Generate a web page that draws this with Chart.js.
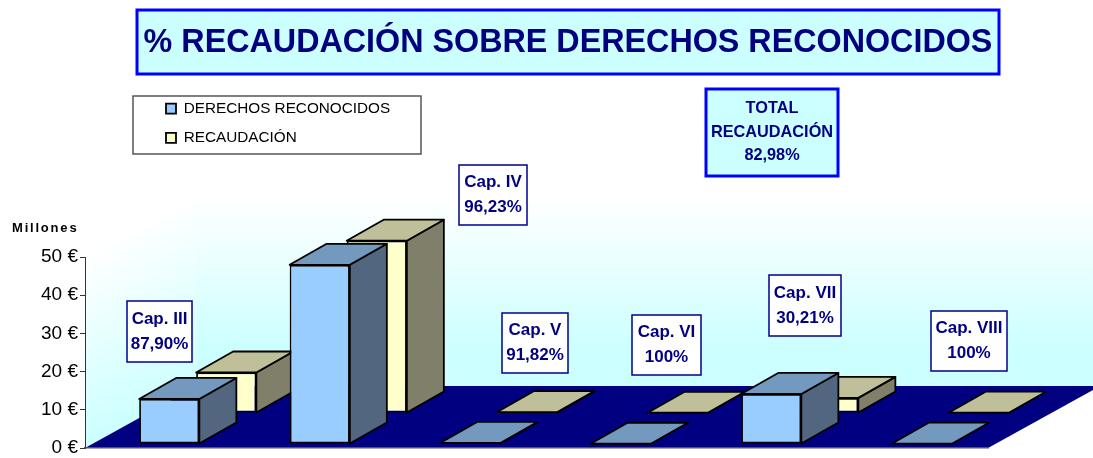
<!DOCTYPE html>
<html><head><meta charset="utf-8">
<script src="https://cdn.jsdelivr.net/npm/chart.js@4"></script>
<style>html,body{margin:0;padding:0;background:#fff}canvas{display:block}</style>
</head><body><canvas id="c" width="1093" height="458"></canvas>
<script>
const categories = ['Cap. III','Cap. IV','Cap. V','Cap. VI','Cap. VII','Cap. VIII'];
const derechos = [11.8, 46.9, 0.27, 0.06, 13.1, 0.08];
const recaudacion = [10.6, 45.1, 0.25, 0.06, 3.96, 0.08];
const percentLabels = ['87,90%','96,23%','91,82%','100%','30,21%','100%'];
const yTicks = [0,10,20,30,40,50];
const titleText = '% RECAUDACIÓN SOBRE DERECHOS RECONOCIDOS';
const totalLines = ['TOTAL','RECAUDACIÓN','82,98%'];
const unitText = 'Millones';

const NAVY='#000080', BLUE='#0000ff', CYAN='#ccffff';
const calloutBoxes = [[127,301,65,61],[459,165,68,60],[502,313,66,60],[632,315,69,60],[769,275,72,61],[931,311,76,60]];
const rows = [
  {dx:9, dy:-4, top:'#7399bf', side:'#526680'},
  {dx:66,dy:-35,top:'#bfbf99', side:'#80806a'}
];
const DEPTH={x:37,y:-21}, ROOM={x:112,y:-62,h:191};

function poly(ctx,pts,fill,stroke,lw){
  ctx.beginPath();pts.forEach((p,i)=>i?ctx.lineTo(p[0],p[1]):ctx.moveTo(p[0],p[1]));ctx.closePath();
  if(fill){ctx.fillStyle=fill;ctx.fill();}
  if(stroke){ctx.strokeStyle=stroke;ctx.lineWidth=lw||1;ctx.lineJoin='round';ctx.stroke();}
}
function textBox(ctx,b,lines,fill,lw,font,gap){
  ctx.fillStyle=fill;ctx.fillRect(b[0],b[1],b[2],b[3]);
  ctx.strokeStyle=lw>2?BLUE:'#000090';ctx.lineWidth=lw;ctx.strokeRect(b[0],b[1],b[2],b[3]);
  ctx.fillStyle=NAVY;ctx.font=font;ctx.textAlign='center';ctx.textBaseline='middle';
  const cx=b[0]+b[2]/2,cy=b[1]+b[3]/2;
  lines.forEach((t,i)=>ctx.fillText(t,cx,cy+(i-(lines.length-1)/2)*gap));
}
const scene={
  id:'scene',
  beforeDraw(chart){
    const {ctx,chartArea:a,legend}=chart;
    ctx.save();
    ctx.fillStyle='#fff';ctx.fillRect(0,0,chart.width,chart.height);
    const b=chart.scales.y.getPixelForValue(0), t=b-ROOM.h;
    const bx=a.left+ROOM.x, backTop=t+ROOM.y, backBot=b+ROOM.y;
    let g=ctx.createLinearGradient(0,backTop+5,0,backTop+155);
    g.addColorStop(0,'#ffffff');g.addColorStop(1,CYAN);
    poly(ctx,[[bx,backTop],[chart.width,backTop],[chart.width,backBot],[bx,backBot]],g);
    g=ctx.createLinearGradient(a.left,t,a.left+81,t+146);
    g.addColorStop(0,'#ffffff');g.addColorStop(1,CYAN);
    poly(ctx,[[a.left,t],[bx,backTop],[bx,backBot],[a.left,b]],g);
    poly(ctx,[[a.left,b],[bx,backBot],[a.right+ROOM.x,backBot],[a.right,b]],NAVY);
    ctx.fillStyle='#fff';ctx.fillRect(133,96,288,58);
    ctx.strokeStyle='#555';ctx.lineWidth=1.5;ctx.strokeRect(133,96,288,58);
    ctx.fillStyle=CYAN;ctx.fillRect(137,10,862,64);
    ctx.strokeStyle=BLUE;ctx.lineWidth=3;ctx.strokeRect(137,10,862,64);
    ctx.fillStyle=NAVY;ctx.font='bold 32.3px "Liberation Sans"';ctx.textAlign='center';ctx.textBaseline='middle';
    ctx.fillText(titleText,568,43);
    ctx.fillStyle='#000';ctx.font='bold 13px "Liberation Sans"';ctx.textAlign='left';
    ctx.letterSpacing='1.8px';ctx.fillText(unitText,12,228);ctx.letterSpacing='0px';
    ctx.restore();
    if(legend){const w=legend.right-legend.left;legend.left=152;legend.right=152+w;legend.top=87;legend.bottom=420;}
  },
  beforeDatasetDraw(chart,args){
    const {ctx}=chart,r=rows[args.index],m=chart.getDatasetMeta(args.index);
    ctx.save();ctx.translate(r.dx,r.dy);
    m.data.forEach(el=>{
      const p=el.getProps(['x','y','base','width'],true),L=p.x-p.width/2,R=p.x+p.width/2;
      poly(ctx,[[R,p.y],[R+DEPTH.x,p.y+DEPTH.y],[R+DEPTH.x,p.base+DEPTH.y],[R,p.base]],r.side,'#000',1.8);
      poly(ctx,[[L,p.y],[L+DEPTH.x,p.y+DEPTH.y],[R+DEPTH.x,p.y+DEPTH.y],[R,p.y]],r.top,'#000',1.8);
    });
  },
  afterDatasetDraw(chart){chart.ctx.restore();},
  afterDraw(chart){
    const {ctx}=chart;ctx.save();
    calloutBoxes.forEach((b,i)=>textBox(ctx,b,[categories[i],percentLabels[i]],'#fff',1.5,'bold 17px "Liberation Sans"',25));
    textBox(ctx,[706,89,132,87],totalLines,CYAN,3,'bold 16.3px "Liberation Sans"',23.5);
    ctx.restore();
  }
};
new Chart(document.getElementById('c'),{
  type:'bar',
  data:{labels:categories,datasets:[
    {label:'DERECHOS RECONOCIDOS',data:derechos,backgroundColor:'#99ccff',borderColor:'#000',borderWidth:1.8,borderSkipped:false,clip:false,grouped:false},
    {label:'RECAUDACIÓN',data:recaudacion,backgroundColor:'#ffffcc',borderColor:'#000',borderWidth:1.8,borderSkipped:false,clip:false,grouped:false}
  ]},
  options:{
    responsive:false,animation:false,
    layout:{padding:{left:0,right:105,top:257,bottom:10}},
    datasets:{bar:{categoryPercentage:1,barPercentage:0.4}},
    scales:{
      x:{grid:{display:false},border:{color:'#555',width:1.5},ticks:{display:false},afterFit(s){s.height=0;s.paddingLeft=0;s.paddingRight=0;}},
      y:{min:0,max:50,position:'left',grid:{display:true,drawOnChartArea:false,drawTicks:true,tickLength:5,color:'#333'},border:{color:'#333',width:1},
         afterBuildTicks(s){s.ticks=yTicks.map(v=>({value:v}));},
         afterFit(s){s.width=85;s.paddingTop=0;s.paddingBottom=0;},
         ticks:{color:'#000',font:{family:'Liberation Sans',size:19},padding:2,callback:v=>v+' €'}}
    },
    plugins:{
      tooltip:{enabled:false},
      legend:{position:'chartArea',align:'start',labels:{boxWidth:10,boxHeight:10,padding:14,color:'#000',font:{family:'Liberation Sans',size:15.3}}}
    }
  },
  plugins:[scene]
});
</script></body></html>
